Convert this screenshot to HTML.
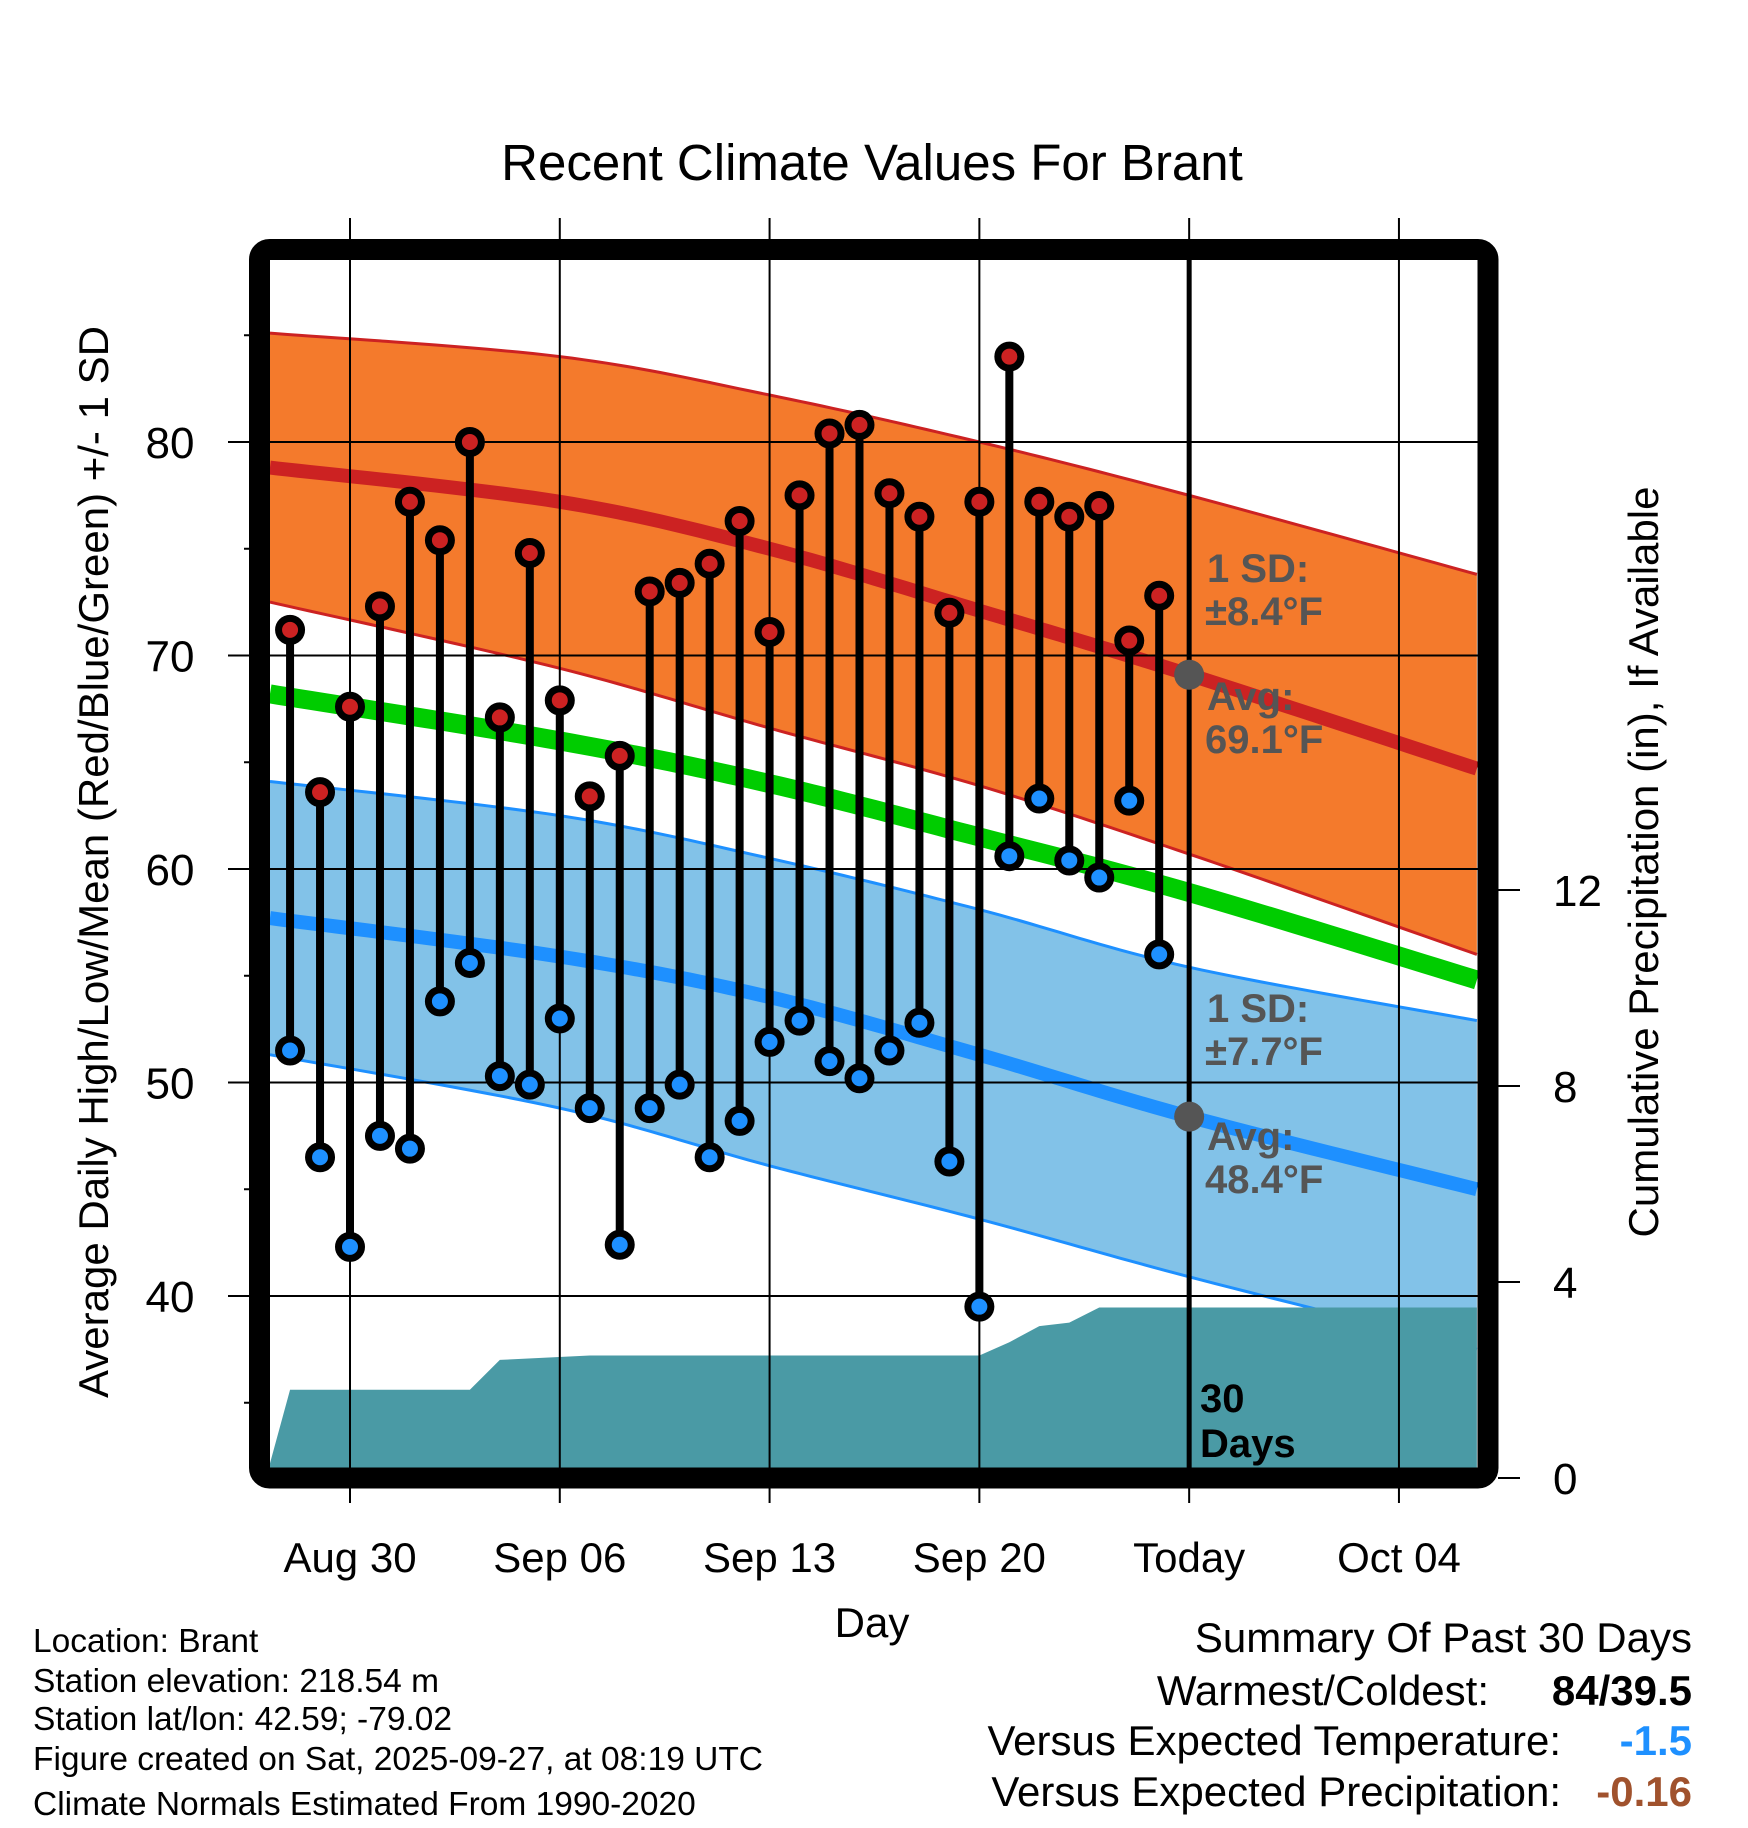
<!DOCTYPE html>
<html><head><meta charset="utf-8"><style>
html,body{margin:0;padding:0;background:#fff;}
svg{display:block;font-family:"Liberation Sans",Arial,sans-serif;}
</style></head><body>
<svg id="chart" width="1748" height="1828" viewBox="0 0 1748 1828" xmlns="http://www.w3.org/2000/svg"></svg>
<script>
// ---- data ----
const obsDays = [-2,-1,0,1,2,3,4,5,6,7,8,9,10,11,12,13,14,15,16,17,18,19,20,21,22,23,24,25,26,27];
const highs = [71.2,63.6,67.6,72.3,77.2,75.4,80.0,67.1,74.8,67.9,63.4,65.3,73.0,73.4,74.3,76.3,71.1,77.5,80.4,80.8,77.6,76.5,72.0,77.2,84.0,77.2,76.5,77.0,70.7,72.8];
const lows = [51.5,46.5,42.3,47.5,46.9,53.8,55.6,50.3,49.9,53.0,48.8,42.4,48.8,49.9,46.5,48.2,51.9,52.9,51.0,50.2,51.5,52.8,46.3,39.5,60.6,63.3,60.4,59.6,63.2,56.0];
const normDays = [-2.67,7,14,21,28,37.6];
const highUpper = [85.1,84.0,82.2,80.0,77.5,73.8];
const highAvg = [78.8,77.2,75.0,72.1,69.1,64.7];
const highLower = [72.5,69.4,66.6,63.9,60.7,56.0];
const meanAvg = [68.2,66.0,64.0,61.5,58.9,54.8];
const lowUpper = [64.1,62.5,60.5,58.1,55.4,52.9];
const lowAvg = [57.7,55.9,54.0,51.3,48.4,45.0];
const lowLower = [51.3,48.8,46.1,43.6,40.9,37.5];
const precipDays = [-2.67,-2,4,5,8,21,22,23,24,25,37.6];
const precipVals = [0.3,1.8,1.8,2.41,2.5,2.5,2.77,3.1,3.17,3.48,3.48];
const xTickDays = [0,7,14,21,28,35];
const xTickLabels = ["Aug 30","Sep 06","Sep 13","Sep 20","Today","Oct 04"];
const yTicks = [40,50,60,70,80];
const yMinor = [35,45,55,65,75,85];
const pTicks = [0,4,8,12];

// ---- scales ----
const X0=270,X1=1478,Y0=260,Y1=1468;
const xs = d => 350 + d*29.97;
const ys = t => 442 - (t-80)*21.35;
const ps = p => 1478 - p*49;
const NS="http://www.w3.org/2000/svg";
const svg=document.getElementById('chart');
function el(tag,attrs,parent){const e=document.createElementNS(NS,tag);for(const k in attrs)e.setAttribute(k,attrs[k]);(parent||svg).appendChild(e);return e;}
const defs=el('defs',{});
const cp=el('clipPath',{id:'plotclip'},defs);
el('rect',{x:X0,y:Y0,width:X1-X0,height:Y1-Y0},cp);
const plot=el('g',{'clip-path':'url(#plotclip)'});



// smooth curve through normal samples (Catmull-Rom)
function smooth(arr){
  const P=normDays.map((d,i)=>[xs(d),ys(arr[i])]);
  const out=[];
  for(let i=0;i<P.length-1;i++){
    const p0=P[Math.max(i-1,0)],p1=P[i],p2=P[i+1],p3=P[Math.min(i+2,P.length-1)];
    for(let k=0;k<20;k++){const t=k/20,t2=t*t,t3=t2*t;
      const f=(a,b,c,d)=>0.5*((2*b)+(-a+c)*t+(2*a-5*b+4*c-d)*t2+(-a+3*b-3*c+d)*t3);
      out.push([f(p0[0],p1[0],p2[0],p3[0]),f(p0[1],p1[1],p2[1],p3[1])]);}
  }
  out.push(P[P.length-1]);
  return out;
}
function pts(arr){return smooth(arr).map(p=>p[0]+','+p[1]).join(' ');}
function band(up,lo,fill,edge,name){
  const p=smooth(up).concat(smooth(lo).reverse()).map(q=>q[0]+','+q[1]);
  const b=el('polygon',{points:p.join(' '),fill:fill},plot);
  
  
  el('polyline',{points:pts(up),fill:'none',stroke:edge,'stroke-width':3},plot);
  el('polyline',{points:pts(lo),fill:'none',stroke:edge,'stroke-width':3},plot);
}
band(highUpper,highLower,'#f47a2c','#cc2222','high-sd-band');
band(lowUpper,lowLower,'#82c2e8','#1e90ff','low-sd-band');
let l;
l=el('polyline',{points:pts(meanAvg),fill:'none',stroke:'#00cc00','stroke-width':19},plot);


l=el('polyline',{points:pts(highAvg),fill:'none',stroke:'#cc2222','stroke-width':14},plot);


l=el('polyline',{points:pts(lowAvg),fill:'none',stroke:'#1e90ff','stroke-width':14},plot);



// grid
yTicks.forEach(t=>{const g=el('line',{x1:X0,x2:X1,y1:ys(t),y2:ys(t),stroke:'#000','stroke-width':2});

});
xTickDays.forEach(d=>{const g=el('line',{x1:xs(d),x2:xs(d),y1:218,y2:1503,stroke:'#000','stroke-width':2});

});

// precip area
const pp=[xs(precipDays[0])+','+Y1].concat(precipDays.map((d,i)=>xs(d)+','+ps(precipVals[i]))).concat([xs(precipDays[precipDays.length-1])+','+Y1]);
const pa=el('polygon',{points:pp.join(' '),fill:'#4a9aa5'},plot);



// today line
l=el('line',{x1:xs(28),x2:xs(28),y1:Y0,y2:Y1,stroke:'#000','stroke-width':5});



// stems and markers
obsDays.forEach((d,i)=>{
  const s=el('line',{x1:xs(d),x2:xs(d),y1:ys(highs[i]),y2:ys(lows[i]),stroke:'#000','stroke-width':8});
  
  
});
obsDays.forEach((d,i)=>{
  const h=el('circle',{cx:xs(d),cy:ys(highs[i]),r:11.5,fill:'#cc2222',stroke:'#000','stroke-width':7});
  
  
  const lo=el('circle',{cx:xs(d),cy:ys(lows[i]),r:11.5,fill:'#1e90ff',stroke:'#000','stroke-width':7});
  
  
});
// today dots
let c=el('circle',{cx:xs(28),cy:ys(69.1),r:15,fill:'#555'});


c=el('circle',{cx:xs(28),cy:ys(48.4),r:15,fill:'#555'});



function txt(x,y,s,attrs,name){const t=el('text',Object.assign({x:x,y:y},attrs));t.textContent=s;

return t;}
const ann={fill:'#555','font-weight':'bold','font-size':40};
txt(1207,582,'1 SD:',ann,'high-sd-label');
txt(1205,625,'±8.4°F',ann,'high-sd-value');
txt(1207,710,'Avg:',ann,'high-avg-label');
txt(1205,753,'69.1°F',ann,'high-avg-value');
txt(1207,1022,'1 SD:',ann,'low-sd-label');
txt(1205,1065,'±7.7°F',ann,'low-sd-value');
txt(1207,1150,'Avg:',ann,'low-avg-label');
txt(1205,1193,'48.4°F',ann,'low-avg-value');
txt(1200,1412,'30',{fill:'#000','font-weight':'bold','font-size':40},'days-count-label');
txt(1200,1457,'Days',{fill:'#000','font-weight':'bold','font-size':40},'days-label');

// frame
const fr=el('rect',{x:259.5,y:249.5,width:1228.5,height:1228.5,rx:10,fill:'none',stroke:'#000','stroke-width':21});



// axes ticks
yTicks.forEach(t=>{el('line',{x1:228,x2:250,y1:ys(t),y2:ys(t),stroke:'#000','stroke-width':2});
txt(170,ys(t)+16,String(t),{'font-size':44,'text-anchor':'middle'},'y-tick-label');});
yMinor.forEach(t=>{el('line',{x1:244,x2:250,y1:ys(t),y2:ys(t),stroke:'#000','stroke-width':2});});
pTicks.forEach(p=>{el('line',{x1:1498,x2:1520,y1:ps(p),y2:ps(p),stroke:'#000','stroke-width':2});
txt(1553,ps(p)+16,String(p),{'font-size':44},'precip-tick-label');});
xTickDays.forEach((d,i)=>{txt(xs(d),1572,xTickLabels[i],{'font-size':42,'text-anchor':'middle'},'x-tick-label');});

txt(872,180,'Recent Climate Values For Brant',{'font-size':51,'text-anchor':'middle'},'chart-title');
txt(872,1637,'Day',{'font-size':42,'text-anchor':'middle'},'x-axis-title');
txt(0,0,'Average Daily High/Low/Mean (Red/Blue/Green) +/- 1 SD',{'font-size':42,'text-anchor':'middle',transform:'translate(108,862) rotate(-90)'},'y-axis-title');
txt(0,0,'Cumulative Precipitation (in), If Available',{'font-size':42,'text-anchor':'middle',transform:'translate(1658,862) rotate(-90)'},'precip-axis-title');

const foot=['Location: Brant','Station elevation: 218.54 m','Station lat/lon: 42.59; -79.02','Figure created on Sat, 2025-09-27, at 08:19 UTC','Climate Normals Estimated From 1990-2020'];
const fy=[1652,1692,1730,1770,1815];
foot.forEach((s,i)=>txt(33,fy[i],s,{'font-size':33.5},'footer-info-line'));

txt(1692,1652,'Summary Of Past 30 Days',{'font-size':42,'text-anchor':'end'},'summary-title');
txt(1489,1705,'Warmest/Coldest:',{'font-size':42,'text-anchor':'end'},'warmest-coldest-label');
txt(1692,1705,'84/39.5',{'font-size':42,'text-anchor':'end','font-weight':'bold'},'warmest-coldest-value');
txt(1561,1755,'Versus Expected Temperature:',{'font-size':42,'text-anchor':'end'},'temp-departure-label');
txt(1692,1755,'-1.5',{'font-size':42,'text-anchor':'end','font-weight':'bold',fill:'#1e90ff'},'temp-departure-value');
txt(1561,1806,'Versus Expected Precipitation:',{'font-size':42,'text-anchor':'end'},'precip-departure-label');
txt(1692,1806,'-0.16',{'font-size':42,'text-anchor':'end','font-weight':'bold',fill:'#a0522d'},'precip-departure-value');
</script>
</body></html>
